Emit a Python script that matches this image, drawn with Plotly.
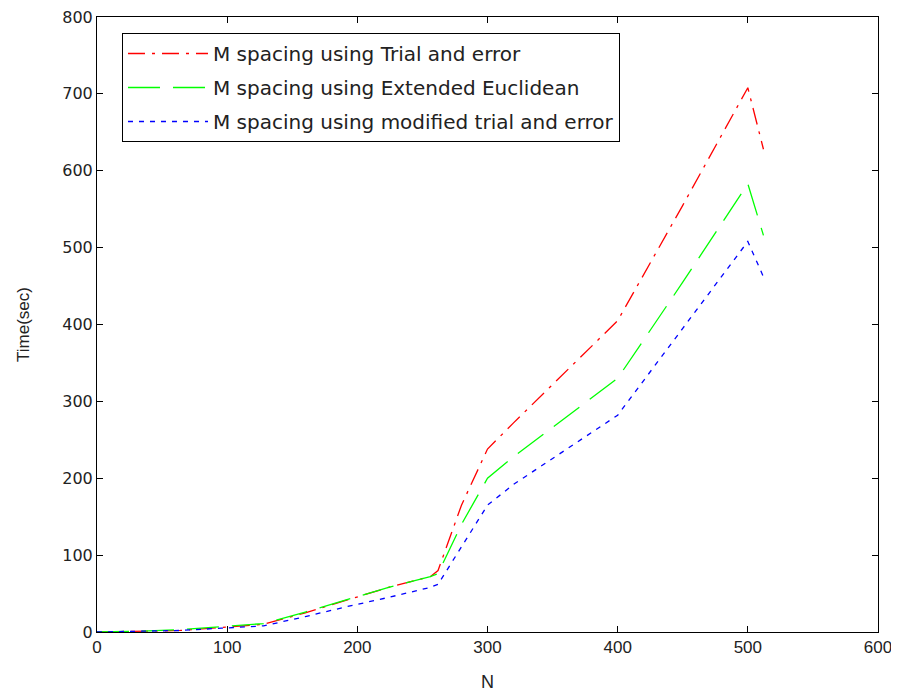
import plotly.graph_objects as go

N = [0, 16, 32, 64, 96, 128, 160, 192, 224, 256, 262, 280, 300, 320, 400, 450, 500, 512]
trial = [0, 0.5, 1, 2, 6, 10, 25, 42, 58, 72, 80, 165, 238, 272, 405, 555, 708, 628]
euclid = [0, 0.5, 1, 3, 7, 11, 26, 42, 58, 72, 76, 140, 200, 228, 330, 455, 583, 516]
modified = [0, 0.5, 1, 2, 5, 8, 20, 33, 45, 58, 62, 110, 165, 192, 282, 395, 508, 462]

names = ["M spacing using Trial and error",
         "M spacing using Extended Euclidean",
         "M spacing using modified trial and error"]
x_ticks = [0, 100, 200, 300, 400, 500, 600]
y_ticks = [0, 100, 200, 300, 400, 500, 600, 700, 800]

fig = go.Figure()
fig.add_trace(go.Scatter(x=N, y=trial, mode="lines", name=names[0], legendgroup="a",
                         line=dict(color="#ff0000", width=1.3, dash="17px,7px,3px,7px")))
fig.add_trace(go.Scatter(x=N, y=euclid, mode="lines", name=names[1], legendgroup="b",
                         line=dict(color="#00ff00", width=1.3, dash="32px,13px")))
fig.add_trace(go.Scatter(x=N, y=modified, mode="lines", name=names[2], legendgroup="c",
                         line=dict(color="#0000ff", width=1.3, dash="5px,6px")))

axis_common = dict(showgrid=False, zeroline=False, showline=True, linecolor="black",
                   linewidth=1, mirror="ticks", ticks="inside", ticklen=6,
                   tickcolor="black", ticklabeloverflow="allow", automargin=False)
fig.update_xaxes(range=[0, 600], tickvals=x_ticks,
                 tickfont=dict(family="Liberation Sans", size=17, color="#222"),
                 title=dict(text="N", font=dict(family="Liberation Sans", size=18, color="#222"), standoff=18),
                 **axis_common)
fig.update_yaxes(range=[0, 800], tickvals=y_ticks,
                 tickfont=dict(family="DejaVu Sans", size=16, color="#222"),
                 title=dict(text="Time(sec)", font=dict(family="Liberation Sans", size=17, color="#222"), standoff=28),
                 **axis_common)

fig.update_layout(
    width=899, height=693,
    margin=dict(l=89, r=29, t=9, b=69),
    paper_bgcolor="white", plot_bgcolor="white",
    legend=dict(x=0.032, y=0.974, xanchor="left", yanchor="top",
                bordercolor="black", borderwidth=1, bgcolor="white",
                font=dict(family="DejaVu Sans", size=20, color="#222"),
                tracegroupgap=5, itemwidth=80),
    showlegend=True,
)

fig.write_html("out.html")
